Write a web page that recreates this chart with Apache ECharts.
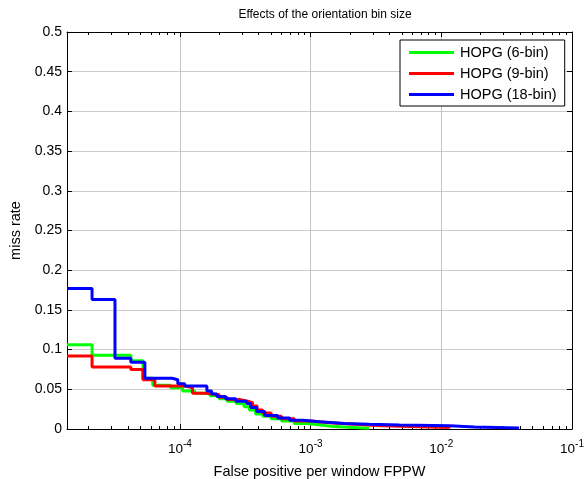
<!DOCTYPE html>
<html>
<head>
<meta charset="utf-8">
<script src="https://cdn.jsdelivr.net/npm/echarts@6/dist/echarts.min.js"></script>
<style>
  html, body { margin: 0; padding: 0; background: #fff; }
  #chart { width: 585px; height: 479px; }
</style>
</head>
<body>
<div id="chart"></div>
<script>
// x values: false positive per window, y values: miss rate
const fppw6 = [1.37e-5, 2.13e-5, 4.22e-5, 5.22e-5, 6.2e-5, 8.5e-5, 1.05e-4, 1.3e-4, 1.7e-4, 2.0e-4, 2.3e-4, 2.7e-4, 3.1e-4, 3.4e-4, 3.8e-4, 4.3e-4, 5.0e-4, 6.0e-4, 7.5e-4, 9.5e-4, 1.2e-3, 1.5e-3, 2.8e-3];
const miss6 = [0.106, 0.093, 0.086, 0.064, 0.055, 0.052, 0.048, 0.045, 0.042, 0.038, 0.035, 0.032, 0.028, 0.024, 0.019, 0.016, 0.013, 0.010, 0.007, 0.005, 0.003, 0.001, 0.001];

const fppw9 = [1.37e-5, 2.13e-5, 4.22e-5, 5.22e-5, 6.44e-5, 1.1e-4, 1.25e-4, 1.6e-4, 2.0e-4, 2.3e-4, 2.9e-4, 3.3e-4, 3.6e-4, 3.9e-4, 4.3e-4, 5.0e-4, 6.0e-4, 7.5e-4, 1.0e-3, 1.4e-3, 2.2e-3, 3.5e-3, 1.15e-2];
const miss9 = [0.092, 0.078, 0.075, 0.062, 0.054, 0.052, 0.045, 0.043, 0.040, 0.037, 0.035, 0.033, 0.029, 0.024, 0.020, 0.016, 0.013, 0.010, 0.008, 0.006, 0.004, 0.002, 0.001];

const fppw18 = [1.37e-5, 2.13e-5, 3.19e-5, 4.22e-5, 5.4e-5, 8.7e-5, 9.65e-5, 1.09e-4, 1.61e-4, 1.75e-4, 1.92e-4, 2.24e-4, 2.68e-4, 3.25e-4, 3.48e-4, 3.87e-4, 4.46e-4, 5.6e-4, 6.92e-4, 8.7e-4, 1.17e-3, 1.81e-3, 2.82e-3, 4.78e-3, 1.15e-2, 1.79e-2, 3.94e-2];
const miss18 = [0.177, 0.163, 0.089, 0.084, 0.064, 0.062, 0.057, 0.054, 0.048, 0.044, 0.041, 0.038, 0.035, 0.032, 0.027, 0.022, 0.017, 0.014, 0.011, 0.009, 0.007, 0.006, 0.005, 0.004, 0.0025, 0.0012, 0.0012];

const seriesNames = ['HOPG (6-bin)', 'HOPG (9-bin)', 'HOPG (18-bin)'];
const seriesColors = ['#00ff00', '#ff0000', '#0000ff'];
const xMin = 1.37e-5;
const xMax = 0.1;
// decades and mantissas used for the minor (log) ticks
const decades = [-5, -4, -3, -2];
const mantissas = [2, 3, 4, 5, 6, 7, 8, 9];

const font = 'Liberation Sans, Arial, sans-serif';

function pairs(xs, ys) {
    return xs.map((x, i) => [x, ys[i]]);
}

const logMin = Math.log10(xMin);
const logMax = Math.log10(xMax);
const minorLogs = [];
decades.forEach(d => mantissas.forEach(m => {
    const v = d + Math.log10(m);
    if (v > logMin && v < logMax) minorLogs.push(v);
}));

const chart = echarts.init(document.getElementById('chart'));

const logAxisBase = {
    type: 'log',
    logBase: 10,
    min: xMin,
    max: xMax,
    splitNumber: 4,
    axisLine: { onZero: false, lineStyle: { color: '#000', width: 1 } },
    axisTick: { inside: true, length: 5, lineStyle: { color: '#000' } }
};

// linear axis in log space, only used to draw the minor ticks
const minorAxisBase = {
    type: 'value',
    min: logMin,
    max: logMax,
    axisLine: { show: false, onZero: false },
    axisLabel: { show: false },
    splitLine: { show: false },
    axisTick: { show: true, inside: true, length: 3, customValues: minorLogs, lineStyle: { color: '#000' } }
};

const valueAxisBase = {
    type: 'value',
    min: 0,
    max: 0.5,
    interval: 0.05,
    axisLine: { show: true, onZero: false, lineStyle: { color: '#000', width: 1 } },
    axisTick: { show: true, inside: true, length: 5, lineStyle: { color: '#000' } }
};

const option = {
    animation: false,
    backgroundColor: '#fff',
    title: {
        text: 'Effects of the orientation bin size',
        left: 320,
        textAlign: 'center',
        top: 4,
        textStyle: { fontFamily: font, fontSize: 12, fontWeight: 'normal', color: '#000' }
    },
    legend: {
        orient: 'vertical',
        left: 400,
        top: 40,
        data: seriesNames,
        icon: 'rect',
        itemWidth: 45,
        itemHeight: 3,
        itemGap: 6,
        padding: [5, 8, 4, 9],
        borderColor: '#000',
        borderWidth: 1,
        backgroundColor: '#fff',
        textStyle: { fontFamily: font, fontSize: 14.5, color: '#000', padding: [0, 0, 0, 1] }
    },
    grid: { left: 67, right: 13, top: 32, bottom: 50, containLabel: false, outerBoundsMode: 'none' },
    xAxis: [
        Object.assign({}, logAxisBase, {
            position: 'bottom',
            name: 'False positive per window FPPW',
            nameLocation: 'middle',
            nameGap: 35,
            nameTextStyle: { fontFamily: font, fontSize: 14.5, color: '#000' },
            axisLabel: {
                showMinLabel: false,
                margin: 10,
                formatter: function (v) {
                    const e = Math.round(Math.log10(v));
                    return '{b|10}{s|' + e + '}';
                },
                rich: {
                    b: { fontFamily: font, fontSize: 13.5, color: '#000' },
                    s: { fontFamily: font, fontSize: 10, color: '#000', padding: [0, 0, 10, 0] }
                }
            },
            splitLine: { show: true, lineStyle: { color: '#c4c4c4', width: 1 } }
        }),
        Object.assign({}, logAxisBase, {
            position: 'top',
            axisLabel: { show: false },
            splitLine: { show: false }
        }),
        Object.assign({}, minorAxisBase, { position: 'bottom' }),
        Object.assign({}, minorAxisBase, { position: 'top' })
    ],
    yAxis: [
        Object.assign({}, valueAxisBase, {
            position: 'left',
            name: 'miss rate',
            nameLocation: 'middle',
            nameGap: 38,
            nameTextStyle: { fontFamily: font, fontSize: 14.5, color: '#000' },
            axisLabel: { fontFamily: font, fontSize: 14, color: '#000', margin: 5 },
            splitLine: { show: true, lineStyle: { color: '#cccccc', width: 1 } }
        }),
        Object.assign({}, valueAxisBase, {
            position: 'right',
            axisLabel: { show: false },
            splitLine: { show: false }
        })
    ],
    series: [
        { name: seriesNames[0], data: pairs(fppw6, miss6) },
        { name: seriesNames[1], data: pairs(fppw9, miss9) },
        { name: seriesNames[2], data: pairs(fppw18, miss18) }
    ].map((s, i) => Object.assign(s, {
        type: 'line',
        step: 'end',
        symbol: 'none',
        xAxisIndex: 0,
        yAxisIndex: 0,
        color: seriesColors[i],
        lineStyle: { color: seriesColors[i], width: 3 }
    }))
};

chart.setOption(option);
</script>
</body>
</html>
